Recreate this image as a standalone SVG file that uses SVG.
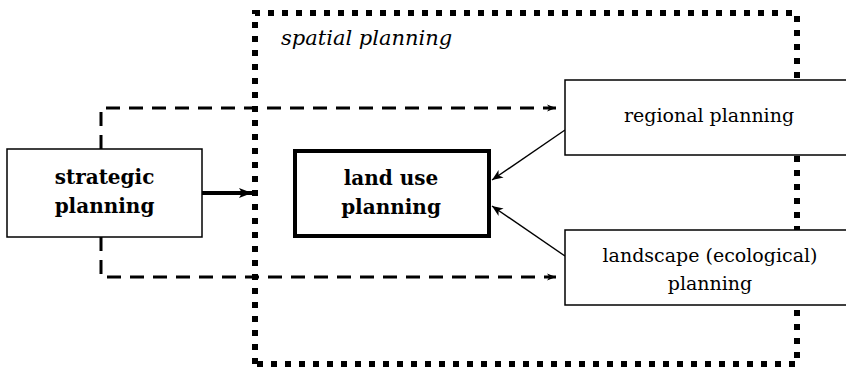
<svg xmlns="http://www.w3.org/2000/svg" width="846" height="370" viewBox="0 0 846 370">
<style>
text{font-family:"DejaVu Serif",serif;fill:#000}
.bold{font-weight:bold;font-size:20px;text-anchor:middle}
.reg{font-size:19px;text-anchor:middle}
.ital{font-style:italic;font-size:21px}
.box{fill:#fff;stroke:#000;stroke-width:1.5}
.dash{fill:none;stroke:#000;stroke-width:3;stroke-dasharray:14 9}
.thin{fill:none;stroke:#000;stroke-width:1.4}
</style>
<defs>
<marker id="ah" markerUnits="userSpaceOnUse" markerWidth="12" markerHeight="10" refX="11" refY="4.5" orient="auto" overflow="visible">
<path d="M0,0 L11,4.5 L0,9 L3,4.5 z" fill="#000"/>
</marker>
<marker id="ahs" markerUnits="userSpaceOnUse" markerWidth="10" markerHeight="8" refX="9" refY="3.5" orient="auto" overflow="visible">
<path d="M0,0 L9,3.5 L0,7 L2.5,3.5 z" fill="#000"/>
</marker>
<marker id="ahb" markerUnits="userSpaceOnUse" markerWidth="14" markerHeight="12" refX="13" refY="5" orient="auto" overflow="visible">
<path d="M0,0 L13,5 L0,10 L3,5 z" fill="#000"/>
</marker>
</defs>
<g id="spatial">
<path d="M255,364 L255,13 L797,13 L797,364 Z" fill="none" stroke="#000" stroke-width="6" stroke-dasharray="6 8"/>
<text class="ital" x="281" y="45">spatial planning</text>
</g>
<g id="connectors">
<path class="dash" d="M101,149 L101,108 L556,108" marker-end="url(#ahs)"/>
<path class="dash" d="M101,237 L101,277 L556,277" marker-end="url(#ahs)"/>
<path d="M202,193 L252,193" fill="none" stroke="#000" stroke-width="4" marker-end="url(#ahb)"/>
<path class="thin" d="M565,130 L492,180" marker-end="url(#ah)"/>
<path class="thin" d="M565,256 L492,206" marker-end="url(#ah)"/>
</g>
<g id="strategic">
<rect class="box" x="7" y="149" width="195" height="88"/>
<text class="bold" x="104.5" y="184">strategic</text>
<text class="bold" x="104.5" y="213">planning</text>
</g>
<g id="landuse">
<rect x="295" y="151" width="194" height="85" fill="#fff" stroke="#000" stroke-width="4"/>
<text class="bold" x="391" y="185">land use</text>
<text class="bold" x="391" y="214">planning</text>
</g>
<g id="regional">
<rect class="box" x="565" y="80" width="290" height="75"/>
<text class="reg" x="709" y="122">regional planning</text>
</g>
<g id="landscape">
<rect class="box" x="565" y="230" width="290" height="75"/>
<text class="reg" x="710" y="262">landscape (ecological)</text>
<text class="reg" x="710" y="290">planning</text>
</g>
</svg>
